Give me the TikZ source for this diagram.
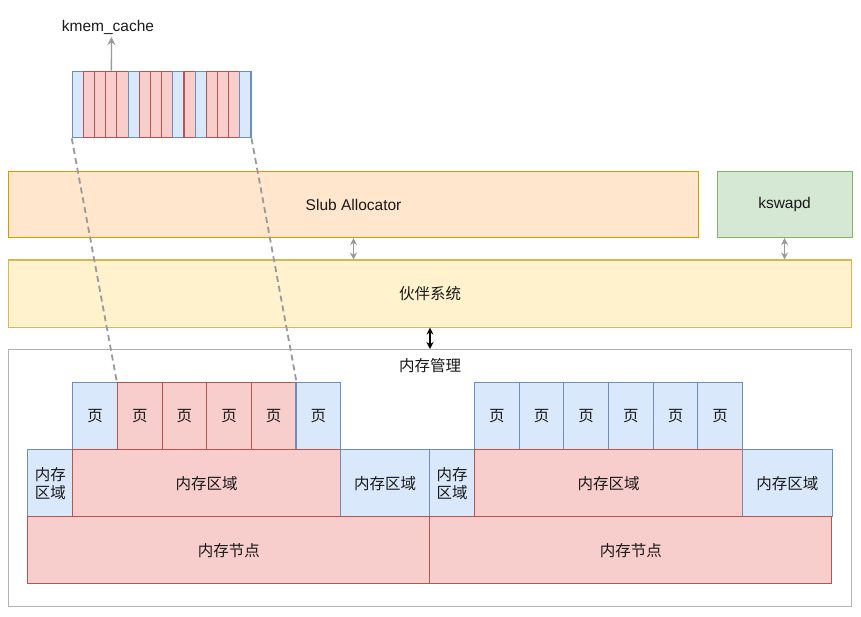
\documentclass[tikz,border=0pt]{standalone}
\usepackage{fontspec}
\setmainfont{Liberation Sans}
\newfontfamily\cjk{Noto Sans CJK SC}
\usetikzlibrary{arrows.meta}
\definecolor{bluefill}{HTML}{DAE8FC}
\definecolor{bluedraw}{HTML}{6C8EBF}
\definecolor{redfill}{HTML}{F8CECC}
\definecolor{reddraw}{HTML}{B85450}
\definecolor{orangefill}{HTML}{FFE6CC}
\definecolor{orangedraw}{HTML}{D79B00}
\definecolor{greenfill}{HTML}{D5E8D4}
\definecolor{greendraw}{HTML}{82B366}
\definecolor{yellowfill}{HTML}{FFF2CC}
\definecolor{yellowdraw}{HTML}{D6B656}
\definecolor{linkgray}{HTML}{999999}
\definecolor{framegray}{HTML}{B3B3B3}
\begin{document}
\begin{tikzpicture}[x=1pt,y=-1pt,
  box/.style={rectangle,inner sep=0pt,anchor=north west,line width=1.1pt,
    font=\fontsize{15.5}{17.5}\selectfont,text=black!90,align=center},
  cjkbox/.style={box,font=\fontsize{15.5}{17.5}\selectfont\cjk},
  bluebox/.style={cjkbox,fill=bluefill,draw=bluedraw},
  redbox/.style={cjkbox,fill=redfill,draw=reddraw},
  cellb/.style={bluebox,minimum width=11.17pt,minimum height=66.5pt},
  cellr/.style={redbox,minimum width=11.17pt,minimum height=66.5pt},
  page/.style={minimum width=44.67pt,minimum height=67pt},
  tip/.style={Stealth[length=7pt,width=7pt]},
  grayarrow/.style={draw=linkgray,line width=1.3pt,{Stealth[length=7pt,width=7pt]}-{Stealth[length=7pt,width=7pt]}},
]
\useasboundingbox (0,0) rectangle (861,617);

% kmem_cache object strip
\foreach \i/\s in {1/cellb,2/cellr,3/cellr,4/cellr,5/cellr,6/cellb,7/cellr,8/cellr,9/cellr,10/cellb,11/cellr,12/cellb,13/cellr,14/cellr,15/cellr,16/cellb}
  \node[\s] (c\i) at ({71.7+(\i-1)*11.17},70.7) {};
\node[font=\fontsize{15.5}{17.5}\selectfont,text=black!90] (kmem) at (108,27) {kmem\_cache};
\draw[draw=linkgray,line width=1.3pt,-{Stealth[length=8pt,width=8pt]}] (c4.north) -- (111.5,37);

% upper layers
\node[box,fill=orangefill,draw=orangedraw,minimum width=690pt,minimum height=66pt] (slub) at (8,171) {Slub Allocator};
\node[box,fill=greenfill,draw=greendraw,minimum width=135pt,minimum height=66pt] (kswapd) at (716.5,171) {kswapd};
\node[cjkbox,fill=yellowfill,draw=yellowdraw,minimum width=843pt,minimum height=67pt] (buddy) at (8,259.5) {伙伴系统};

\draw[grayarrow] (slub.south -| 353.5,0) -- (buddy.north -| 353.5,0);
\draw[grayarrow] (kswapd.south) -- (buddy.north -| kswapd.south);

% memory management frame
\node[box,draw=framegray,fill=white,minimum width=843pt,minimum height=257pt] (mm) at (8,349) {};
\node[font=\fontsize{15.5}{17.5}\selectfont\cjk,text=black!90] (mmlabel) at (430,366) {内存管理};
\draw[line width=1.3pt,{Stealth[length=7pt,width=7pt]}-{Stealth[length=7pt,width=7pt]}] (buddy.south -| 430,0) -- (mm.north -| 430,0);

% left node: pages
\foreach \i/\s in {1/bluebox,2/redbox,3/redbox,4/redbox,5/redbox,6/bluebox}
  \node[\s,page] (lp\i) at ({72.3+(\i-1)*44.62},382.3) {页};
% left node: zones
\node[bluebox,minimum width=45pt,minimum height=67pt] (lz1) at (27.3,449.3) {内存\\区域};
\node[redbox,minimum width=267.7pt,minimum height=67pt] (lz2) at (72.3,449.3) {内存区域};
\node[bluebox,minimum width=89.3pt,minimum height=67pt] (lz3) at (340,449.3) {内存区域};
\node[redbox,minimum width=402pt,minimum height=67pt] (ln) at (27.3,516.3) {内存节点};

% right node: pages
\foreach \i in {1,...,6}
  \node[bluebox,page] (rp\i) at ({474+(\i-1)*44.67},382.3) {页};
% right node: zones
\node[bluebox,minimum width=44.7pt,minimum height=67pt] (rz1) at (429.3,449.3) {内存\\区域};
\node[redbox,minimum width=268pt,minimum height=67pt] (rz2) at (474,449.3) {内存区域};
\node[bluebox,minimum width=89.5pt,minimum height=67pt] (rz3) at (742,449.3) {内存区域};
\node[redbox,minimum width=402pt,minimum height=67pt] (rn) at (429.3,516.3) {内存节点};

% slab objects map onto the pages
\draw[linkgray,line width=1.8pt,dash pattern=on 6pt off 4pt] (c1.south west) -- (lp2.north west);
\draw[linkgray,line width=1.8pt,dash pattern=on 6pt off 4pt] (c16.south east) -- (lp5.north east);
\end{tikzpicture}
\end{document}
